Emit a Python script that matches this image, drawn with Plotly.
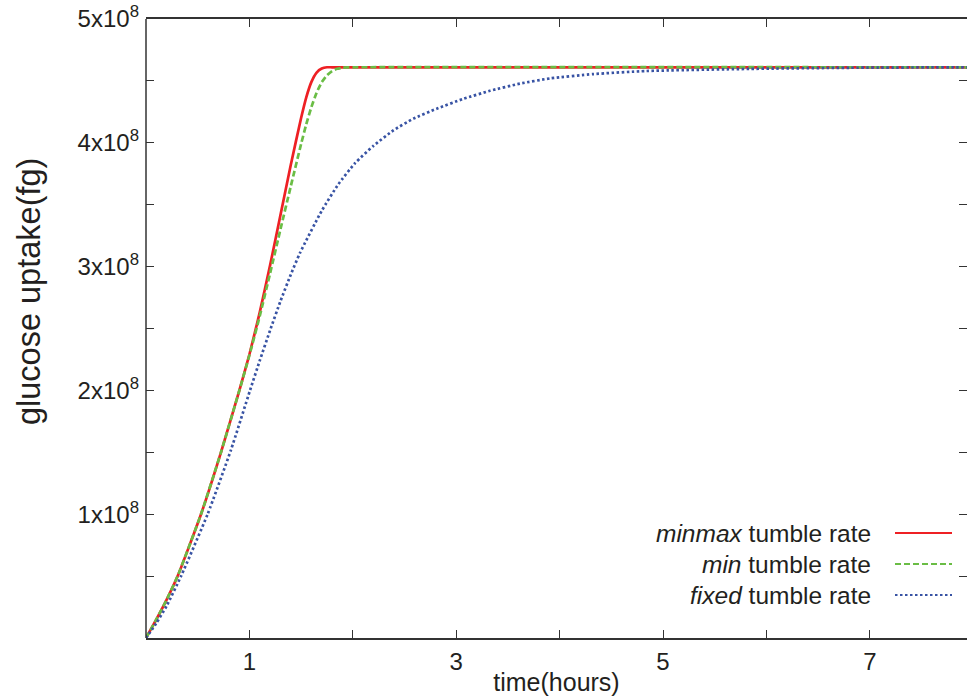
import plotly.graph_objects as go

# ---- data (time in hours, glucose uptake in units of 1e8 fg) ----
minmax_t = [0, 0.1, 0.2, 0.306, 0.532, 0.725, 0.903, 1.0, 1.1, 1.2, 1.3, 1.4, 1.5, 1.55, 1.6, 1.65, 1.7, 1.75, 1.8, 8.0]
minmax_v = [0, 0.15, 0.31, 0.5, 1.0, 1.5, 2.0, 2.29, 2.63, 3.01, 3.415, 3.82, 4.20, 4.3675, 4.4925, 4.5675, 4.60, 4.61, 4.61, 4.61]

min_t = [0, 0.1, 0.2, 0.306, 0.532, 0.725, 0.903, 1.0, 1.1, 1.2, 1.3, 1.4, 1.5, 1.55, 1.6, 1.65, 1.7, 1.75, 1.8,
         1.85, 1.9, 1.95, 2.0, 8.0]
min_v = [0, 0.15, 0.31, 0.5, 1.0, 1.5, 2.0, 2.284, 2.60, 2.945, 3.30, 3.648, 3.99, 4.15, 4.29, 4.405, 4.49, 4.545,
         4.58, 4.598, 4.606, 4.609, 4.61, 4.61]

fixed_t = [0, 0.1, 0.2, 0.339, 0.596, 0.822, 1.006, 1.1, 1.2, 1.3, 1.4, 1.489, 1.699, 1.86, 2.021, 2.199, 2.392,
           2.586, 2.811, 3.069, 3.327, 3.617, 3.907, 4.326, 4.842, 5.84, 6.81, 8.0]
fixed_v = [0, 0.12, 0.26, 0.5, 1.0, 1.52, 2.0, 2.24, 2.485, 2.72, 2.935, 3.11, 3.45, 3.665, 3.835, 3.975, 4.10,
           4.195, 4.275, 4.355, 4.42, 4.478, 4.52, 4.555, 4.58, 4.597, 4.606, 4.61]

series_names = ["<i>minmax</i> tumble rate", "<i>min</i> tumble rate", "<i>fixed</i> tumble rate"]
series_colors = ["#ee2024", "#6abd45", "#3853a4"]
series_dash = ["solid", "6px,3px", "2.5px,2.5px"]

x_ticks = [0, 1, 2, 3, 4, 5, 6, 7, 8]
x_ticktext = ["", "1", "", "3", "", "5", "", "7", ""]
y_ticks = [0, 0.5, 1, 1.5, 2, 2.5, 3, 3.5, 4, 4.5, 5]
y_ticktext = ["", "", "1x10<sup>8</sup>", "", "2x10<sup>8</sup>", "", "3x10<sup>8</sup>", "",
              "4x10<sup>8</sup>", "", "5x10<sup>8</sup>"]

SCALE = 1e8
FONT = "Liberation Sans, Arial, Helvetica, sans-serif"
INK = "#231f20"
AXC = "#333333"
L, R, TOP, BOT = 146, 967, 19, 638

fig = go.Figure()
data = [(minmax_t, minmax_v), (min_t, min_v), (fixed_t, fixed_v)]
for (t, v), name, col, dash in zip(data, series_names, series_colors, series_dash):
    fig.add_trace(go.Scatter(
        x=t, y=[val * SCALE for val in v], mode="lines", name=name,
        line=dict(color=col, width=2.7, dash=dash, shape="spline", smoothing=0.5),
        showlegend=False,
    ))

# custom legend: right-aligned text with sample line on the right
leg_y = [533, 564, 595]
for name, col, dash, yp in zip(series_names, series_colors, series_dash, leg_y):
    yfrac = (BOT - yp) / (BOT - TOP)
    fig.add_annotation(x=(873 - L) / (R - L), y=yfrac, xref="paper", yref="paper",
                       text=name, showarrow=False, xanchor="right", yanchor="middle",
                       font=dict(family=FONT, size=24.5, color=INK))
    fig.add_shape(type="line", xref="paper", yref="paper",
                  x0=(895 - L) / (R - L), x1=(952 - L) / (R - L), y0=yfrac, y1=yfrac,
                  line=dict(color=col, width=2.2, dash=dash))

# y-axis title placed as in the reference (slightly above centre)
fig.add_annotation(x=-(L - 29) / (R - L), y=(BOT - 292) / (BOT - TOP), xref="paper", yref="paper",
                   text="glucose uptake(fg)", textangle=-90, showarrow=False,
                   xanchor="center", yanchor="middle",
                   font=dict(family=FONT, size=32.5, color=INK))

# left frame line (right frame lies just outside the picture)
fig.add_shape(type="line", xref="paper", yref="paper", x0=0, x1=0, y0=0, y1=1,
              line=dict(color=AXC, width=1.5))

tick_common = dict(
    ticks="inside", ticklen=8, tickwidth=1.3, tickcolor=AXC,
    showgrid=False, zeroline=False, mirror="allticks",
    tickfont=dict(family=FONT, size=24, color=INK),
)

fig.update_xaxes(
    range=[0, 7.94], tickmode="array", tickvals=x_ticks, ticktext=x_ticktext,
    showline=True, linecolor=AXC, linewidth=1.5,
    title=dict(text="time(hours)", font=dict(family=FONT, size=25, color=INK), standoff=0),
    ticklabelstandoff=1,
    **tick_common,
)
fig.update_yaxes(
    range=[0, 5 * SCALE], tickmode="array", tickvals=[v * SCALE for v in y_ticks], ticktext=y_ticktext,
    showline=False,
    ticklabelstandoff=6,
    **tick_common,
)

fig.update_layout(
    width=967, height=700,
    margin=dict(l=L, r=0, t=TOP, b=700 - BOT),
    plot_bgcolor="white", paper_bgcolor="white",
    font=dict(family=FONT, color=INK),
)

fig.write_html("out.html")
